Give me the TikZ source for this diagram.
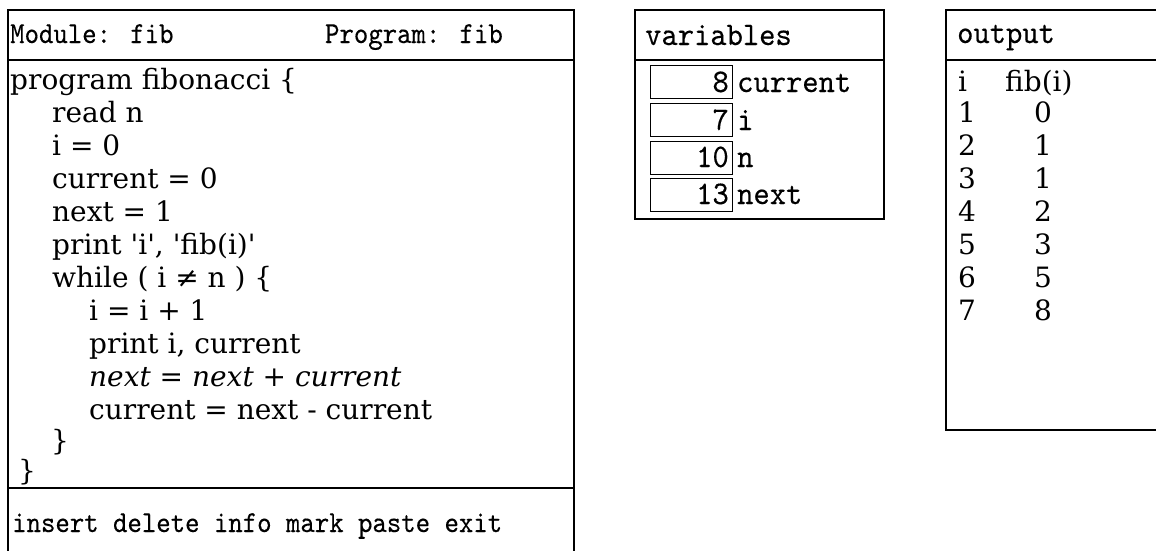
\documentclass[tikz,border=0pt]{standalone}
\usepackage{fontspec}
\newfontfamily\codeface{DejaVu Serif}[Ligatures=TeXOff]
\newfontfamily\monoface{lmmono10-regular.otf}[FakeStretch=0.9, FakeBold=0.3]
\newfontfamily\widemono{lmmono10-regular.otf}[FakeStretch=0.94, FakeBold=0.3]
\newcommand\codefnt{\codeface\fontsize{28}{33}\selectfont}
\newcommand\monofnt{\monoface\fontsize{30.5}{33}\selectfont}
\newcommand\bigmono{\widemono\fontsize{33}{36}\selectfont}
\tikzset{
  panel/.style={line width=2pt, line cap=rect},
  cell/.style={draw, line width=1.4pt, minimum width=82pt, minimum height=33pt, inner sep=0pt, anchor=north west},
  codeln/.style={anchor=base west, inner sep=0pt, font=\codefnt},
  hdr/.style={anchor=base west, inner sep=0pt, font=\monofnt},
  rhdr/.style={anchor=base west, inner sep=0pt, font=\bigmono},
  num/.style={anchor=base east, inner sep=0pt, font=\bigmono},
  outc/.style={anchor=base west, inner sep=0pt, font=\codefnt},
  outv/.style={anchor=base, inner sep=0pt, font=\codefnt}
}
\begin{document}
\begin{tikzpicture}[x=1pt, y=-1pt]
\useasboundingbox (0,0) rectangle (1156,550);
% left panel
\draw[panel] (8,550) -- (8,10) -- (574,10) -- (574,550);
\draw[panel] (8,60) -- (574,60);
\draw[panel] (8,488) -- (574,488);
\node[hdr] (mod) at (10,43) {Module: fib};
\node[hdr, anchor=base east] (prog) at (503,43) {Program: fib};
\node[codeln] (l0) at (10,89) {program fibonacci \{};
\node[codeln] (l1) at (52,122) {read n};
\node[codeln] (l2) at (52,155) {i = 0};
\node[codeln] (l3) at (52,188) {current = 0};
\node[codeln] (l4) at (52,221) {next = 1};
\node[codeln] (l5) at (52,254) {print 'i', 'fib(i)'};
\node[codeln] (l6) at (52,287) {while ( i ≠ n ) \{};
\node[codeln] (l7) at (89,320) {i = i + 1};
\node[codeln] (l8) at (89,353) {print i, current};
\node[codeln, font=\codefnt\itshape] (l9) at (89,386) {next = next + current};
\node[codeln] (l10) at (89,419) {current = next - current};
\node[codeln] (l11) at (51,450) {\}};
\node[codeln] (l12) at (18,480) {\}};
\node[hdr] (menu) at (12,532) {insert delete info mark paste exit};
% variables panel
\draw[panel] (635,10) rectangle (884,219);
\draw[panel] (635,60) -- (884,60);
\node[rhdr] (vars) at (645,45) {variables};
\node[cell] (c1) at (650,65) {};
\node[cell] (c2) at (650,103) {};
\node[cell] (c3) at (650,141) {};
\node[cell] (c4) at (650,178) {};
\node[num] (n1) at (729,92) {8};
\node[num] (n2) at (729,130) {7};
\node[num] (n3) at (729,167) {10};
\node[num] (n4) at (729,204) {13};
\node[rhdr] (v1) at (737,92) {current};
\node[rhdr] (v2) at (737,130) {i};
\node[rhdr] (v3) at (737,167) {n};
\node[rhdr] (v4) at (737,204) {next};
% output panel
\draw[panel] (1160,10) -- (946,10) -- (946,430) -- (1160,430);
\draw[panel] (946,60) -- (1160,60);
\node[rhdr] (out) at (957,43) {output};
\node[outc] (oi) at (958,91) {i};
\node[outc] (of) at (1005,91) {fib(i)};
\node[outc] (a1) at (958,122) {1}; \node[outv] (b1) at (1043,122) {0};
\node[outc] (a2) at (958,155) {2}; \node[outv] (b2) at (1043,155) {1};
\node[outc] (a3) at (958,188) {3}; \node[outv] (b3) at (1043,188) {1};
\node[outc] (a4) at (958,221) {4}; \node[outv] (b4) at (1043,221) {2};
\node[outc] (a5) at (958,254) {5}; \node[outv] (b5) at (1043,254) {3};
\node[outc] (a6) at (958,287) {6}; \node[outv] (b6) at (1043,287) {5};
\node[outc] (a7) at (958,320) {7}; \node[outv] (b7) at (1043,320) {8};
\end{tikzpicture}
\end{document}
